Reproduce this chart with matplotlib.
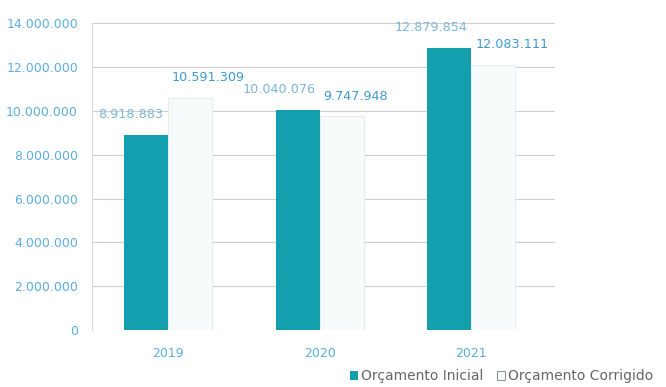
import matplotlib
matplotlib.use("Agg")
import matplotlib.pyplot as plt
import numpy as np
from matplotlib.ticker import FuncFormatter

years = ["2019", "2020", "2021"]
inicial = [8918883, 10040076, 12879854]
corrigido = [10591309, 9747948, 12083111]
labels_inicial = ["8.918.883", "10.040.076", "12.879.854"]
labels_corrigido = ["10.591.309", "9.747.948", "12.083.111"]

fig = plt.figure(figsize=(6.66, 3.87), dpi=100)
ax = fig.add_axes([0.138, 0.147, 0.695, 0.793])

x = np.arange(len(years))
w = 0.29
teal = "#139fae"
ax.bar(x - w / 2, inicial, w, color=teal, label="Orçamento Inicial", zorder=3)
ax.bar(x + w / 2, corrigido, w, color="#f7fbfb", edgecolor="#e4eaea", linewidth=0.6,
       label="Orçamento Corrigido", zorder=3)

for xi, v, t in zip(x, inicial, labels_inicial):
    ax.annotate(t, (xi, v), xytext=(-3, 10), textcoords="offset points",
                ha="right", va="bottom", fontsize=9.2, color="#7ab6d6")
for xi, v, t in zip(x, corrigido, labels_corrigido):
    ax.annotate(t, (xi, v), xytext=(3, 10), textcoords="offset points",
                ha="left", va="bottom", fontsize=9.2, color="#3d9ad3")

ax.set_ylim(0, 14000000)
ax.set_yticks(np.arange(0, 14000001, 2000000))
ax.yaxis.set_major_formatter(FuncFormatter(lambda v, p: f"{int(v):,}".replace(",", ".")))
ax.set_xlim(-0.5, 2.55)
ax.set_xticks(x)
ax.set_xticklabels(years)
ax.tick_params(axis="both", length=0, colors="#5aaee0", labelsize=9)
ax.tick_params(axis="y", pad=10)
ax.tick_params(axis="x", pad=12)
ax.grid(axis="y", color="#cfcfcf", linewidth=0.8, zorder=0)
for s in ["top", "right", "bottom"]:
    ax.spines[s].set_visible(False)
ax.spines["left"].set_color("#d8d8d8")

leg = fig.legend(loc="lower right", bbox_to_anchor=(1.0, -0.022), ncol=2, frameon=False,
                 fontsize=10, handlelength=0.6, handleheight=0.6, handletextpad=0.2,
                 columnspacing=1.0)
leg.legend_handles[1].set_edgecolor("#777777")
for t in leg.get_texts():
    t.set_color("#666666")

fig.savefig("out.png", dpi=100)
